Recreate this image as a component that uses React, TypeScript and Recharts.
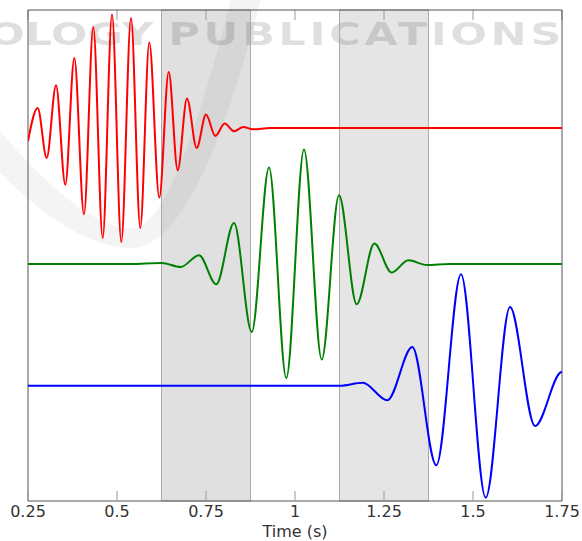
import React from 'react';
import { LineChart, Line, XAxis, YAxis, ReferenceArea, ReferenceLine } from 'recharts';

// x-axis ticks (seconds)
const xTicks = [0.25, 0.5, 0.75, 1, 1.25, 1.5, 1.75];
const xMin = 0.25;
const xMax = 1.75;
const yMin = 0;
const yMax = 4.91;
const topTickLen = 0.1;

// shaded time windows
const windowStarts = [0.625, 1.125];
const windowEnds = [0.875, 1.375];
const windowOpacities = [0.12, 0.1];

// vertical offsets of each trace
const redOffset = 3.73;
const greenOffset = 2.37;
const blueOffset = 1.152;

// red trace (extrema)
const redTime = [0.25, 0.2772, 0.3025, 0.3287, 0.3548, 0.3801, 0.4073, 0.4334, 0.4598, 0.486, 0.5121, 0.5393, 0.5654, 0.5907, 0.6188, 0.6452, 0.6705, 0.6966, 0.7239, 0.75, 0.7761, 0.8025, 0.8287, 0.8548, 0.8812, 0.93, 1.75];
const redAmp = [-0.13, 0.2, -0.3, 0.427, -0.566, 0.7, -0.863, 1.01, -1.1, 1.134, -1.14, 1.1, -1.0, 0.854, -0.696, 0.56, -0.423, 0.294, -0.2, 0.134, -0.08, 0.044, -0.033, 0.01, -0.013, 0, 0];

// green trace
const greenTime = [0.25, 0.5365, 0.6256, 0.6789, 0.7303, 0.7789, 0.8287, 0.8784, 0.927, 0.9756, 1.0253, 1.075, 1.1236, 1.1733, 1.2228, 1.2716, 1.3183, 1.37, 1.435, 1.75];
const greenAmp = [0, 0, 0.01, -0.03, 0.087, -0.203, 0.41, -0.68, 0.964, -1.14, 1.144, -0.956, 0.687, -0.403, 0.204, -0.086, 0.037, -0.01, 0, 0];

// blue trace
const blueTime = [0.25, 1.0702, 1.1264, 1.1902, 1.2593, 1.3295, 1.3969, 1.4663, 1.5357, 1.6039, 1.6742, 1.7492, 1.75];
const blueAmp = [0, 0, 0, 0.03, -0.145, 0.388, -0.795, 1.115, -1.118, 0.788, -0.402, 0.138, 0.138];

const build = (times: number[], amps: number[], offset: number) =>
  times.map((t, i) => ({ t, v: offset + amps[i] }));

const redData = build(redTime, redAmp, redOffset);
const greenData = build(greenTime, greenAmp, greenOffset);
const blueData = build(blueTime, blueAmp, blueOffset);

const FONT = '"DejaVu Sans", Verdana, sans-serif';
const FRAME = '#555';

export default function App() {
  return (
    <div style={{ position: 'absolute', left: 0, top: 0, width: 582, height: 541, background: '#fff' }}>
      <svg width={582} height={541} style={{ position: 'absolute', left: 0, top: 0 }}>
        <path
          d="M -5 125 Q 85 232 135 228 Q 175 222 232 -5 L 262 -5 Q 200 240 135 248 Q 75 250 -5 168 Z"
          fill="#000"
          fillOpacity={0.045}
        />
        <g transform="translate(-12,0) scale(1.35,1)">
          <text
            x={0}
            y={45}
            fontFamily='"DejaVu Sans", Verdana, sans-serif'
            fontWeight="bold"
            fontSize={32}
            fill="#000"
            fillOpacity={0.12}
          >
            OLOGY <tspan letterSpacing={2.6}>PUBLICATIONS</tspan>
          </text>
        </g>
      </svg>
      <div style={{ position: 'absolute', left: 0, top: 0 }}>
        <LineChart width={582} height={541} margin={{ top: 10, right: 20, bottom: 0, left: 28 }}>
          <XAxis
            dataKey="t"
            type="number"
            domain={[xMin, xMax]}
            ticks={xTicks}
            allowDataOverflow
            height={40}
            tickSize={-10}
            tickMargin={15}
            tickLine={{ stroke: '#999' }}
            axisLine={{ stroke: FRAME }}
            tick={{ fill: '#333', fontSize: 16, fontFamily: FONT }}
            interval={0}
            label={{ value: 'Time (s)', position: 'insideBottom', offset: 4, fill: '#333', fontSize: 16, fontFamily: FONT }}
          />
          <YAxis type="number" domain={[yMin, yMax]} allowDataOverflow hide />
          {windowStarts.map((s, i) => (
            <ReferenceArea
              key={'w' + i}
              x1={s}
              x2={windowEnds[i]}
              fill="#000"
              fillOpacity={windowOpacities[i]}
              stroke="#aaa"
              strokeWidth={1}
              strokeOpacity={1}
            />
          ))}
          {xTicks.map((t) => (
            <ReferenceLine
              key={'tt' + t}
              segment={[{ x: t, y: yMax }, { x: t, y: yMax - topTickLen }]}
              stroke="#999"
              ifOverflow="visible"
            />
          ))}
          <ReferenceLine y={yMax} stroke={FRAME} ifOverflow="visible" />
          <ReferenceLine x={xMin} stroke={FRAME} ifOverflow="visible" />
          <ReferenceLine x={xMax} stroke={FRAME} ifOverflow="visible" />
          <Line data={redData} dataKey="v" type="monotone" stroke="#ff0000" strokeWidth={2} dot={false} isAnimationActive={false} />
          <Line data={greenData} dataKey="v" type="monotone" stroke="#008000" strokeWidth={2} dot={false} isAnimationActive={false} />
          <Line data={blueData} dataKey="v" type="monotone" stroke="#0000ff" strokeWidth={2} dot={false} isAnimationActive={false} />
        </LineChart>
      </div>
    </div>
  );
}
